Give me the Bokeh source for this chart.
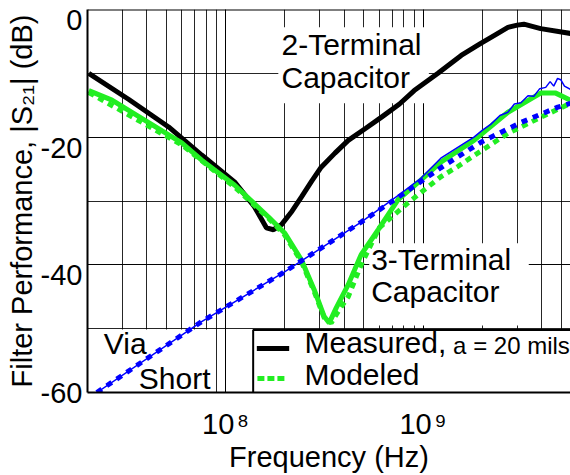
from bokeh.plotting import figure
from bokeh.models import (Range1d, LogTicker, SingleIntervalTicker, FixedTicker, Label, Span,
                          LinearAxis, CustomJSTickFormatter)
from bokeh.embed import file_html
from bokeh.resources import INLINE

FONT = "Liberation Sans"

# ---- data (frequency in Hz, |S21| in dB) ----
y_tick_values = [0, -20, -40, -60]

freq_2term = [2.03e7, 3.24e7, 5.15e7, 7.57e7, 1.11e8, 1.40e8, 1.61e8, 1.75e8, 1.92e8,
              2.17e8, 2.42e8, 2.73e8, 3.05e8, 3.58e8, 4.18e8, 5.13e8, 6.14e8, 7.60e8,
              9.02e8, 1.19e9, 1.56e9, 1.96e9, 2.31e9, 2.69e9, 3.00e9, 3.24e9, 3.94e9, 5.58e9]
meas_2term = [-10.0, -14.1, -18.4, -22.8, -27.0, -30.9, -34.2, -34.5, -33.7,
              -31.6, -29.4, -26.9, -24.7, -22.5, -20.5, -18.6, -16.9, -14.8,
              -12.7, -10.0, -7.2, -5.3, -4.0, -2.8, -2.45, -2.3, -3.0, -3.75]

freq_3term_meas = [2.03e7, 2.66e7, 6.0e7, 7.57e7, 1.11e8, 1.65e8, 1.99e8, 2.42e8, 2.81e8,
                   3.16e8, 3.35e8, 3.64e8, 4.18e8, 4.86e8, 5.93e8, 7.48e8, 9.78e8, 1.23e9,
                   1.81e9, 2.69e9, 3.94e9, 4.70e9, 5.58e9]
meas_3term = [-12.7, -14.2, -20.9, -23.6, -27.5, -32.5, -35.0, -39.2, -43.9,
              -48.1, -49.1, -46.7, -43.1, -38.4, -34.5, -29.8, -26.7, -23.9,
              -20.5, -16.1, -13.1, -13.1, -14.2]

freq_3term_mod = [2.03e7, 6.0e7, 1.11e8, 1.65e8, 1.99e8, 2.42e8, 2.81e8, 3.16e8, 3.43e8,
                  3.77e8, 4.18e8, 4.86e8, 6.0e8, 8.39e8, 1.01e9, 1.23e9, 1.50e9, 1.81e9,
                  2.69e9, 3.94e9, 5.4e9]
mod_3term = [-13.0, -21.2, -27.8, -32.7, -35.3, -39.5, -44.2, -48.3, -49.1,
             -47.0, -45.0, -40.0, -34.2, -30.3, -28.3, -26.2, -24.6, -22.9,
             -19.4, -16.9, -14.9]

freq_via_meas = [2.23e7, 7.57e7, 1.99e8, 4.86e8, 7.74e8, 9.78e8, 1.23e9, 1.81e9, 2.0e9,
                 2.2e9, 2.45e9, 2.69e9, 2.9e9, 3.13e9, 3.4e9, 3.64e9, 3.9e9, 4.18e9,
                 4.4e9, 4.59e9, 4.8e9, 4.98e9, 5.2e9, 5.58e9]
meas_via = [-60.0, -48.9, -41.1, -33.3, -28.8, -26.4, -23.3, -20.0, -18.9,
            -18.0, -16.6, -16.1, -14.8, -14.6, -13.5, -13.6, -12.4, -12.2,
            -11.3, -12.0, -10.8, -11.0, -12.0, -12.5]

freq_via_mod = [2.23e7, 7.57e7, 1.99e8, 4.86e8, 7.74e8, 1.23e9, 1.96e9, 3.13e9, 4.81e9, 5.58e9]
mod_via = [-60.0, -48.9, -41.1, -33.3, -29.1, -24.8, -20.8, -17.7, -15.3, -14.7]

GREEN = "#22ee22"
BLUE = "#0000ff"
FS = "29px"

p = figure(width=570, height=475, x_axis_type="log", y_axis_location=None,
           x_range=Range1d(2e7, 5.58e9), y_range=Range1d(-60, 0),
           output_backend="svg", toolbar_location=None,
           min_border_left=87, min_border_right=0, min_border_top=9, min_border_bottom=82)
p.outline_line_color = None
p.background_fill_color = "white"

# y tick labels are drawn just below their grid lines, as in the reference
def label_pos(v):
    return v if v == -60 else v - 1.67

yax = LinearAxis(ticker=FixedTicker(ticks=[label_pos(v) for v in y_tick_values]),
                 formatter=CustomJSTickFormatter(code="return String(Math.round(tick / 20) * 20);"))
p.add_layout(yax, "left")
yax.axis_label = "Filter Performance, |S\u2082\u2081| (dB)"

p.xaxis.ticker = LogTicker(num_minor_ticks=10)
p.xaxis.formatter = CustomJSTickFormatter(code="""
const sup = {7: '\\u2077', 8: '\\u2078', 9: '\\u2079'};
const e = Math.round(Math.log10(tick));
return '10\\u200a' + sup[e];
""")
p.xaxis.axis_label = "Frequency (Hz)"
for ax in (p.xaxis[0], yax):
    ax.axis_label_text_font = FONT
    ax.axis_label_text_font_style = "normal"
    ax.axis_label_text_font_size = FS
    ax.axis_label_text_color = "black"
    ax.axis_label_text_line_height = 1.0
    ax.major_label_text_font = FONT
    ax.major_label_text_font_size = "29px"
    ax.major_label_text_color = "black"
    ax.major_label_text_line_height = 1.0
    ax.axis_line_color = "black"
    ax.axis_line_width = 2
    ax.major_tick_in = 0
    ax.major_tick_out = 0
    ax.minor_tick_in = 0
    ax.minor_tick_out = 0
p.xaxis.major_label_standoff = 15
p.xaxis.axis_label_standoff = -2
yax.major_label_standoff = 5
yax.axis_label_standoff = 0

p.ygrid.ticker = SingleIntervalTicker(interval=20, num_minor_ticks=2)
for g in (p.xgrid[0], p.ygrid[0]):
    g.grid_line_color = "black"
    g.grid_line_alpha = 0.85
    g.grid_line_width = 1
    g.minor_grid_line_color = "black"
    g.minor_grid_line_alpha = 0.85
    g.minor_grid_line_width = 1

p.add_layout(Span(location=0, dimension="width", line_color="black", line_width=2))

# white backgrounds behind the annotation texts (drawn beneath curves)
p.quad(left=[1.85e8, 5.34e8, 1.0e7], right=[1.07e9, 3.43e9, 8.6e7],
       top=[-2.8, -36.6, -50.15], bottom=[-14.7, -49.5, -61],
       fill_color="white", line_color=None)

# curves
p.line(freq_2term, meas_2term, line_color="black", line_width=5)
p.line(freq_3term_meas, meas_3term, line_color=GREEN, line_width=5)
p.line(freq_3term_mod, mod_3term, line_color=GREEN, line_width=5, line_dash="6 5")
p.line(freq_via_meas, meas_via, line_color=BLUE, line_width=1.5)
p.line(freq_via_mod, mod_via, line_color=BLUE, line_width=5, line_dash="6 6")

# legend box
p.quad(left=[1.38e8], right=[2e10], top=[-50.2], bottom=[-61],
       fill_color="white", line_color="black", line_width=2)
p.line([1.44e8, 2.10e8], [-53.1, -53.1], line_color="black", line_width=5)
p.line([1.45e8, 2.05e8], [-57.8, -57.8], line_color=GREEN, line_width=5, line_dash="7 3")

def lab(x, y, t, size=30):
    dy = 2.0 * size / 30.0  # baseline correction in dB
    p.add_layout(Label(x=x, y=y + dy, text=t, text_font=FONT, text_font_size=f"{size}px",
                       text_color="black", text_baseline="alphabetic", text_align="left"))

lab(1.92e8, -7.5, "2-Terminal")
lab(1.92e8, -12.66, "Capacitor")
lab(5.46e8, -41.1, "3-Terminal")
lab(5.46e8, -46.25, "Capacitor")
lab(2.42e7, -54.4, "Via")
lab(3.64e7, -59.8, "Short")
lab(2.51e8, -54.2, "Measured,")
lab(1.42e9, -54.2, "a = 20 mils", 24)
lab(2.51e8, -59.2, "Modeled")

open("out.html", "w").write(file_html(p, INLINE))
